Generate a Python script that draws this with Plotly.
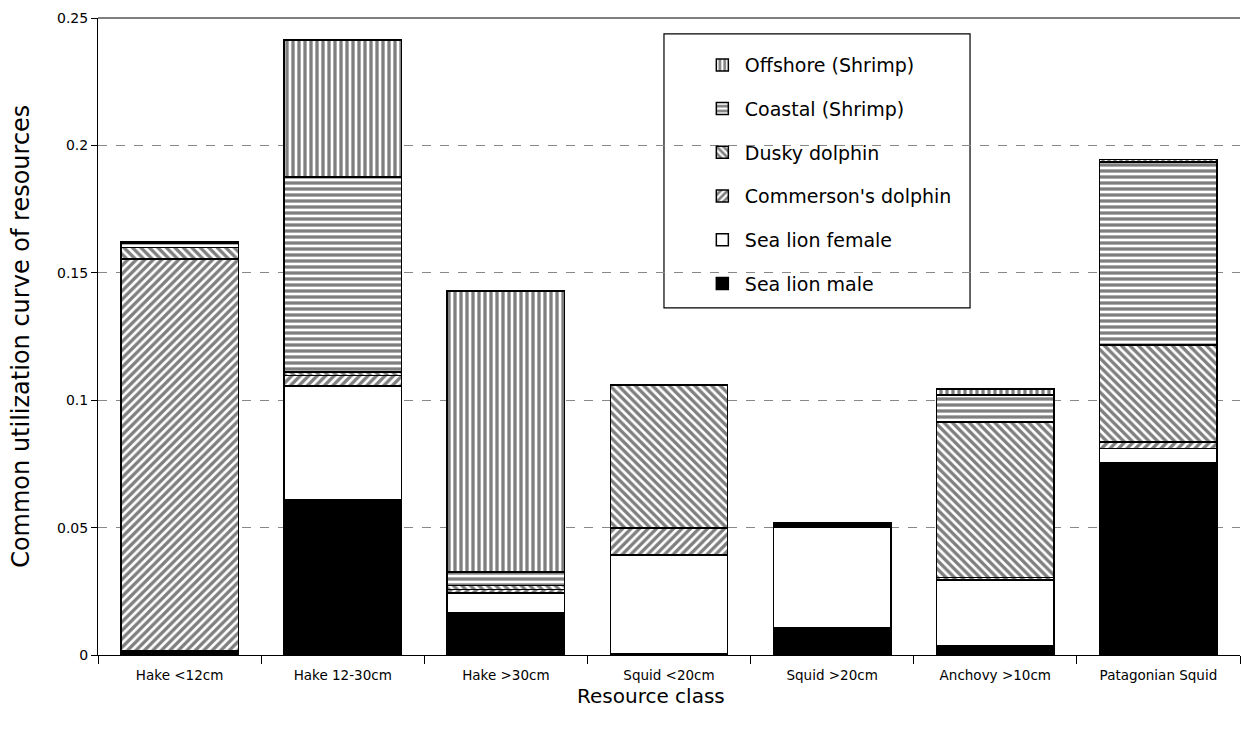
import plotly.graph_objects as go

categories = ["Hake <12cm", "Hake 12-30cm", "Hake >30cm", "Squid <20cm",
              "Squid >20cm", "Anchovy >10cm", "Patagonian Squid"]

sea_lion_male = [0.0015, 0.0610, 0.0165, 0.0005, 0.0106, 0.0035, 0.0753]
sea_lion_female = [0.0, 0.0446, 0.0078, 0.0387, 0.0396, 0.0260, 0.0057]
commerson = [0.1540, 0.0040, 0.0015, 0.0106, 0.0006, 0.0010, 0.0026]
dusky = [0.0045, 0.0015, 0.0015, 0.0562, 0.0006, 0.0609, 0.0381]
coastal = [0.0015, 0.0765, 0.0053, 0.0, 0.0004, 0.0106, 0.0718]
offshore = [0.0005, 0.0538, 0.1103, 0.0, 0.0, 0.0024, 0.0010]

series = [
    ("Sea lion male", sea_lion_male, dict(shape=""), "black"),
    ("Sea lion female", sea_lion_female, dict(shape=""), "white"),
    ("Commerson's dolphin", commerson, dict(shape="/", size=6, solidity=0.55, fgcolor="black", bgcolor="white"), "white"),
    ("Dusky dolphin", dusky, dict(shape="\\", size=6, solidity=0.55, fgcolor="black", bgcolor="white"), "white"),
    ("Coastal (Shrimp)", coastal, dict(shape="-", size=6, solidity=0.55, fgcolor="black", bgcolor="white"), "white"),
    ("Offshore (Shrimp)", offshore, dict(shape="|", size=6, solidity=0.55, fgcolor="black", bgcolor="white"), "white"),
]

fig = go.Figure()
n = len(series)
for i, (name, vals, pat, color) in enumerate(series):
    fig.add_trace(go.Bar(
        x=categories, y=vals, name=name,
        marker=dict(color=color, pattern=pat, line=dict(color="black", width=1.5)),
        legendgroup="g%d" % (n - i), legendrank=n - i,
    ))

font = "DejaVu Sans, Liberation Sans, sans-serif"
fig.update_layout(
    barmode="stack",
    bargap=0.28,
    width=1238, height=715,
    margin=dict(l=90, r=6, t=10, b=68, autoexpand=False),
    paper_bgcolor="white", plot_bgcolor="white",
    font=dict(family=font, color="black", size=13),
    showlegend=True,
    legend=dict(
        x=0.527, y=0.956, xanchor="left", yanchor="top",
        traceorder="grouped", tracegroupgap=16,
        font=dict(size=19, family=font),
        bgcolor="rgba(0,0,0,0)", borderwidth=0,
        itemwidth=35,
    ),
    xaxis=dict(
        showline=True, linecolor="black", linewidth=1,
        ticks="outside", tickson="boundaries", ticklen=8, tickcolor="black",
        tickfont=dict(size=13.5), showgrid=False, automargin=False,
        ticklabelstandoff=8,
    ),
    yaxis=dict(
        range=[0, 0.25], tickvals=[0, 0.05, 0.1, 0.15, 0.2, 0.25],
        ticktext=["0", "0.05", "0.1", "0.15", "0.2", "0.25"],
        showline=True, linecolor="black", linewidth=1,
        ticks="outside", ticklen=6, tickcolor="black",
        tickfont=dict(size=14), automargin=False,
        showgrid=True, gridcolor="#888888", griddash="dash", gridwidth=1,
        zeroline=False,
    ),
    annotations=[
        dict(text="Resource class", xref="paper", yref="paper", x=0.484, y=-0.064,
             xanchor="center", yanchor="middle", showarrow=False, font=dict(size=20)),
        dict(text="Common utilization curve of resources", xref="paper", yref="paper",
             x=-0.068, y=0.5, textangle=-90, xanchor="center", yanchor="middle",
             showarrow=False, font=dict(size=24)),
    ],
    shapes=[
        dict(type="line", xref="paper", yref="paper", x0=0, x1=1, y0=1, y1=1,
             line=dict(color="black", width=1.2)),
        dict(type="rect", xref="paper", yref="paper", x0=0.4956, x1=0.7636, y0=0.545, y1=0.975,
             line=dict(color="black", width=1.2), fillcolor="white", layer="below"),
    ],
)

fig.write_html("out.html")
